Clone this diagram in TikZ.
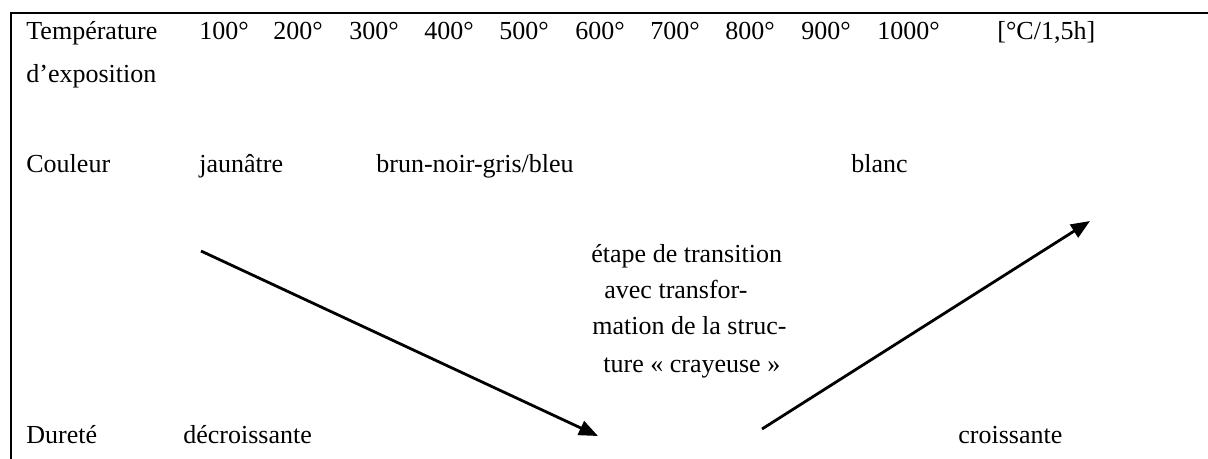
\documentclass[tikz,border=0pt]{standalone}
\usepackage{fontspec}
\setmainfont{Liberation Serif}
\usetikzlibrary{arrows.meta}

\begin{document}
\begin{tikzpicture}[x=0.5pt,y=-0.5pt,
    lbl/.style={anchor=base west, inner sep=0pt,
      font=\fontsize{13}{15.6}\selectfont},
    trend/.style={line width=1.4pt, -{Triangle[length=9.5pt,width=7.5pt]}}]
  \useasboundingbox (0,0) rectangle (1208,459);

  % Table frame, cut off at the right and bottom edges.
  \draw[line width=1pt] (1208,13) -- (11,13) -- (11,459);

  % Row 1: exposure temperatures.
  \node[lbl] (temphead) at (26,40) {Température};
  \node[lbl] (tempsub) at (26,83) {d’exposition};
  \foreach \temp/\xpos in {100/199,200/273,300/349,400/424,500/499,
    600/575,700/650,800/725,900/801,1000/877} {
    \node[lbl] (t\temp) at (\xpos,40) {\temp{}°};
  }
  \node[lbl] (unit) at (997,40) {[°C/1,5h]};

  % Row 2: colour.
  \node[lbl] (colhead) at (26,173) {Couleur};
  \node[lbl] (yellow) at (199,173) {jaunâtre};
  \node[lbl] (brown) at (376,173) {brun-noir-gris/bleu};
  \node[lbl] (white) at (851,173) {blanc};

  % Transition stage in the middle.
  \node[lbl] (trans1) at (591,263) {étape de transition};
  \node[lbl] (trans2) at (604,299) {avec transfor-};
  \node[lbl] (trans3) at (592,335) {mation de la struc-};
  \node[lbl] (trans4) at (603,372) {ture « crayeuse »};

  % Row 3: hardness.
  \node[lbl] (hardhead) at (26,443) {Dureté};
  \node[lbl] (falling) at (183,443) {décroissante};
  \node[lbl] (rising) at (958,443) {croissante};

  % Trend arrows.
  \coordinate (fallstart) at (201,251);
  \coordinate (fallend) at (598,436);
  \coordinate (risestart) at (762,429);
  \coordinate (riseend) at (1090,221);
  \draw[trend] (fallstart) -- (fallend);
  \draw[trend] (risestart) -- (riseend);
\end{tikzpicture}
\end{document}
